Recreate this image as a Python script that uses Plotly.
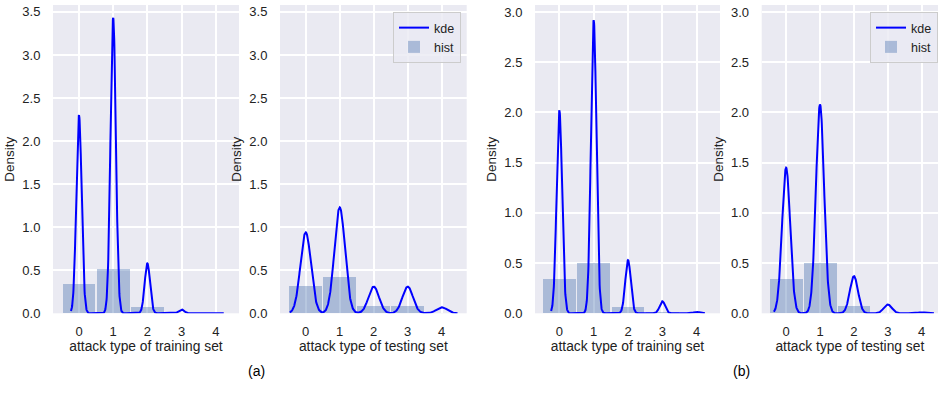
import numpy as np
import plotly.graph_objects as go

# attack type categories on the x axis
attack_types = [0, 1, 2, 3, 4]
tick_text = ["0", "1", "2", "3", "4"]

# (a) histogram densities per attack type
train_a_hist = [0.34, 0.52, 0.07, 0.005, 0.0]
test_a_hist = [0.317, 0.418, 0.088, 0.088, 0.005]
# (a) kde peak densities per attack type
train_a_kde = [2.30, 3.43, 0.58, 0.045, 0.003]
test_a_kde = [0.94, 1.23, 0.31, 0.31, 0.07]

# (b) histogram densities per attack type
train_b_hist = [0.34, 0.50, 0.065, 0.01, 0.0]
test_b_hist = [0.34, 0.50, 0.07, 0.005, 0.0]
# (b) kde peak densities per attack type
train_b_kde = [2.02, 2.92, 0.53, 0.12, 0.015]
test_b_kde = [1.45, 2.08, 0.37, 0.087, 0.01]

# kde bandwidth used for each panel
bandwidths = [0.078, 0.155, 0.08, 0.12]

panels = [
    dict(hist=train_a_hist, kde=train_a_kde, title="attack type of training set",
         dom=[53, 239], xr=[-0.76, 4.68], yr=[0, 3.58], legend=None),
    dict(hist=test_a_hist, kde=test_a_kde, title="attack type of testing set",
         dom=[280, 466.7], xr=[-0.756, 4.735], yr=[0, 3.58], legend="legend"),
    dict(hist=train_b_hist, kde=train_b_kde, title="attack type of training set",
         dom=[535, 720], xr=[-0.71, 4.68], yr=[0, 3.07], legend=None),
    dict(hist=test_b_hist, kde=test_b_kde, title="attack type of testing set",
         dom=[761.7, 938], xr=[-0.72, 4.48], yr=[0, 3.07], legend="legend2"),
]

W, H = 942, 394
TOP, BOTTOM = 5, 313.3
FONT = "Arial, Liberation Sans, sans-serif"
TXT = "#222222"
BAR = "rgba(76,114,176,0.4)"

fig = go.Figure()
layout = {}


def kde_curve(peaks, bw):
    xs = np.linspace(attack_types[0] - 3 * bw, attack_types[-1] + 3 * bw, 800)
    ys = np.zeros_like(xs)
    for c, h in zip(attack_types, peaks):
        ys += h * np.exp(-0.5 * ((xs - c) / bw) ** 2)
    return xs, ys


for i, p in enumerate(panels):
    n = "" if i == 0 else str(i + 1)
    xa, ya = "x" + n, "y" + n
    show = p["legend"] is not None
    fig.add_trace(go.Bar(
        x=attack_types, y=p["hist"], width=0.96, marker=dict(color=BAR, line=dict(width=0)),
        name="hist", xaxis=xa, yaxis=ya, showlegend=show,
        legend=p["legend"] or "legend", legendrank=2,
    ))
    kx, ky = kde_curve(p["kde"], bandwidths[i])
    fig.add_trace(go.Scatter(
        x=kx, y=ky, mode="lines", line=dict(color="blue", width=2),
        name="kde", xaxis=xa, yaxis=ya, showlegend=show,
        legend=p["legend"] or "legend", legendrank=1,
    ))
    layout["xaxis" + n] = dict(
        domain=[p["dom"][0] / W, p["dom"][1] / W], anchor=ya, range=p["xr"],
        tickmode="array", tickvals=attack_types, ticktext=tick_text,
        showgrid=True, gridcolor="white", gridwidth=1.5, zeroline=False, showline=False,
        ticks="outside", ticklen=6, tickcolor="rgba(0,0,0,0)",
        tickfont=dict(size=13, color=TXT, family=FONT),
        title=dict(text=p["title"], font=dict(size=13.8, color=TXT, family=FONT), standoff=3),
        automargin=False, fixedrange=True,
    )
    layout["yaxis" + n] = dict(
        domain=[1 - BOTTOM / H, 1 - TOP / H], anchor=xa, range=p["yr"],
        tickmode="linear", tick0=0, dtick=0.5, tickformat=".1f",
        showgrid=True, gridcolor="white", gridwidth=1.5, zeroline=False, showline=False,
        ticks="outside", ticklen=9, tickcolor="rgba(0,0,0,0)",
        tickfont=dict(size=13, color=TXT, family=FONT),
        title=dict(text="Density", font=dict(size=13.5, color=TXT, family=FONT), standoff=4),
        automargin=False, fixedrange=True,
    )

legend_style = dict(
    bgcolor="rgba(234,234,242,0.8)", bordercolor="#cccccc", borderwidth=1,
    font=dict(size=12.5, color=TXT, family=FONT), itemwidth=30,
    xanchor="right", yanchor="top", traceorder="normal", tracegroupgap=0,
)
layout["legend"] = dict(x=461 / W, y=1 - 12 / H, **legend_style)
layout["legend2"] = dict(x=938 / W, y=1 - 12 / H, **legend_style)

fig.update_layout(
    width=W, height=H, margin=dict(l=0, r=0, t=0, b=0),
    paper_bgcolor="white", plot_bgcolor="#eaeaf2",
    barmode="overlay", bargap=0, font=dict(family=FONT, color=TXT),
    annotations=[
        dict(text="(a)", x=256 / W, y=1 - 371 / H, xref="paper", yref="paper",
             xanchor="center", yanchor="middle",
             showarrow=False, font=dict(size=14, color="black", family=FONT)),
        dict(text="(b)", x=741 / W, y=1 - 371 / H, xref="paper", yref="paper",
             xanchor="center", yanchor="middle",
             showarrow=False, font=dict(size=14, color="black", family=FONT)),
    ],
    **layout,
)

fig.write_html("out.html")
